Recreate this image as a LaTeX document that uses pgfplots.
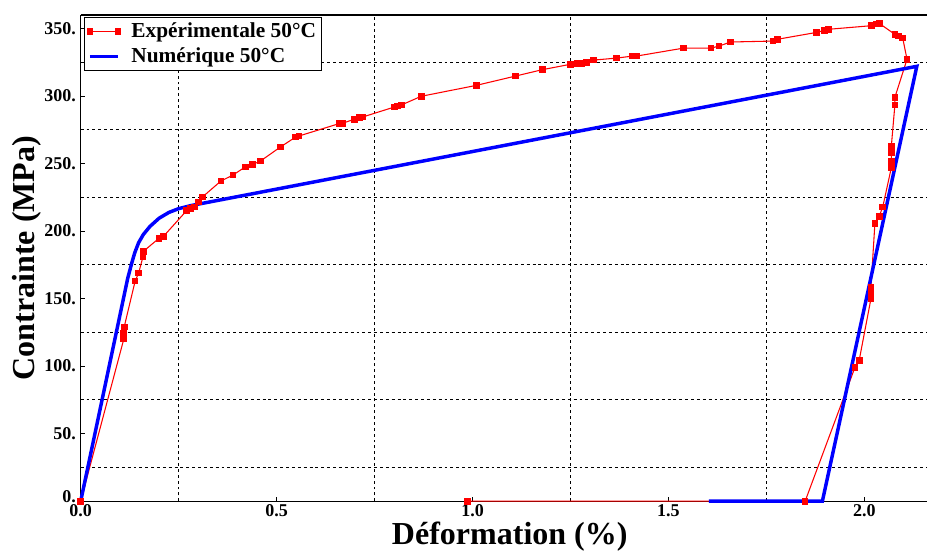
\documentclass[border=0pt]{standalone}
\usepackage{pgfplots}
\pgfplotsset{compat=1.18}
\usepackage{fontspec}
\setmainfont{Liberation Serif}
\pgfplotsset{
  redleg/.style={legend image code/.code={\draw[##1] plot coordinates {(0pt,0pt) (21pt,0pt)};}},
  blueleg/.style={legend image code/.code={\draw[##1] (0pt,0pt) -- (21pt,0pt);}},
}
\begin{document}
\begin{tikzpicture}
\begin{axis}[
  at={(0,0)}, anchor=south west,
  scale only axis, width=634.5pt, height=364.5pt,
  xmin=0, xmax=2.16, ymin=0, ymax=360,
  axis x line=box, axis y line*=left,
  xtick pos=bottom,
  xtick={0,0.5,1,1.5,2},
  xticklabels={0.0,0.5,1.0,1.5,2.0},
  ytick={0,50,100,150,200,250,300,350},
  yticklabels={\raisebox{7pt}{0.},50.,100.,150.,200.,250.,300.,350.},
  minor xtick={0.25,0.75,1.25,1.75},
  minor ytick={25,75,125,175,225,275,325},
  grid=minor,
  minor grid style={black, line width=0.6pt, dash pattern=on 2.2pt off 2.2pt},
  minor tick length=0pt,
  major tick length=3pt,
  tick align=inside,
  axis line style={black, line width=0.8pt},
  tick style={black, line width=0.7pt},
  /pgf/number format/assume math mode=true,
  tick label style={font=\bfseries\fontsize{13.5}{14}\selectfont},
  xticklabel style={yshift=1pt},
  xlabel={\bfseries Déformation (\%)},
  ylabel={\bfseries Contrainte (MPa)},
  label style={font=\bfseries\fontsize{24}{26}\selectfont},
  xlabel style={at={(axis description cs:0.507,-0.073)}, anchor=center},
  ylabel style={at={(axis description cs:-0.0635,0.5)}, anchor=center},
  legend style={at={(axis description cs:0.004,0.995)}, anchor=north west,
    draw=black, line width=0.6pt, font=\bfseries\fontsize{16}{19}\selectfont,
    inner sep=2pt, row sep=2pt,
    /tikz/every odd column/.append style={column sep=6pt}},
  legend cell align=left,
  clip=false,
]
\addplot[red, line width=0.8pt, mark=square*, mark size=2.1pt, mark options={solid}, redleg] coordinates {
(0,0) (0.110,120) (0.110,124) (0.111,129) (0.139,163) (0.148,169) (0.159,181) (0.160,185)
(0.200,194.7) (0.211,196) (0.270,215) (0.280,216.6) (0.290,217.8) (0.300,221.6) (0.311,225.3)
(0.358,237.1) (0.389,241.5) (0.420,247.5) (0.439,249.4) (0.459,251.9) (0.510,262.3)
(0.549,269.7) (0.557,270.4) (0.660,279.6) (0.668,279.8) (0.698,282.8) (0.711,284.2) (0.720,284.5)
(0.801,291.9) (0.809,292.6) (0.818,293.3) (0.869,299.8) (1.010,307.9) (1.110,314.8) (1.178,319.5)
(1.250,323.5) (1.268,324) (1.279,324) (1.291,325) (1.309,326.6) (1.368,328.1) (1.409,329.6)
(1.419,329.6) (1.539,335.5) (1.609,335.5) (1.629,337) (1.659,340) (1.767,340.7) (1.778,342)
(1.878,347.1) (1.898,348.6) (1.908,349.4) (2.019,352.1) (2.030,353.3) (2.038,353.8)
(2.078,345.7) (2.088,344.4) (2.098,342.9) (2.109,327.2) (2.078,299) (2.078,293.3)
(2.069,263) (2.069,258) (2.069,252) (2.069,247) (2.047,217.8) (2.038,211) (2.027,205.6)
(2.017,158.6) (2.017,154) (2.017,150) (1.987,104.4) (1.976,99) (1.849,0) (0.988,0)
};
\addlegendentry{Expérimentale 50°C}
\addplot[blue, line width=2.6pt, no marks, blueleg] coordinates {
(0,0) (0.120,165) (0.130,176) (0.138,184) (0.148,191.5) (0.160,197.5) (0.177,203.5)
(0.200,209.5) (0.225,213.8) (0.250,216.6) (0.280,218.8) (0.310,220.5) (0.400,225.5)
(2.134,322) (1.893,0) (1.603,0)
};
\addlegendentry{Numérique 50°C}
\end{axis}
\pgfresetboundingbox
\path (-60.5pt,-38.25pt) rectangle (635.25pt,375.75pt);
\end{tikzpicture}
\end{document}
